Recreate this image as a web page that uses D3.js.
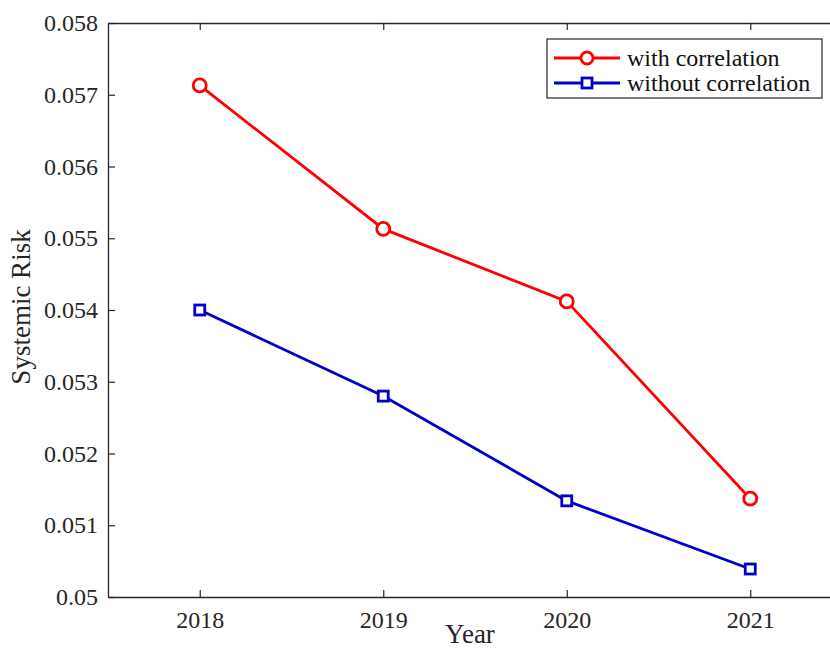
<!DOCTYPE html>
<html>
<head>
<meta charset="utf-8">
<script src="https://cdn.jsdelivr.net/npm/d3@7"></script>
<style>
  body { margin: 0; background: #fff; }
</style>
</head>
<body>
<div id="chart"></div>
<script>
// data
var years = [2018, 2019, 2020, 2021];
var withCorr = [0.05713, 0.05513, 0.05412, 0.05137];
var withoutCorr = [0.05400, 0.05280, 0.05134, 0.05039];
var yTicks = [0.05, 0.051, 0.052, 0.053, 0.054, 0.055, 0.056, 0.057, 0.058];
var seriesNames = ["with correlation", "without correlation"];

var serif = "'Liberation Serif', 'Times New Roman', serif";
var width = 830, height = 650;
// plot box runs a little past the right edge of the picture, as in the reference
var margin = {left: 108, top: 23, right: -12, bottom: 53};
var plotW = width - margin.left - margin.right;
var plotH = height - margin.top - margin.bottom;

var svg = d3.select("#chart").append("svg")
    .attr("width", width)
    .attr("height", height);

var x = d3.scaleLinear().domain([2017.5, 2021.5]).range([0, plotW]);
var y = d3.scaleLinear().domain([0.05, 0.058]).range([plotH, 0]);

var g = svg.append("g").attr("transform", "translate(" + margin.left + "," + margin.top + ")");

var axisColor = "#262626";

// box + inward ticks (matlab style)
var xBottom = d3.axisBottom(x).tickValues(years).tickFormat(d3.format("d")).tickSizeInner(-7).tickSizeOuter(0).tickPadding(14);
var xTop = d3.axisTop(x).tickValues(years).tickFormat("").tickSizeInner(-7).tickSizeOuter(0);
var yLeft = d3.axisLeft(y).tickValues(yTicks).tickFormat(function(d) { return String(+d.toFixed(3)); }).tickSizeInner(-7).tickSizeOuter(0).tickPadding(10);

g.append("g").attr("transform", "translate(0," + plotH + ")").call(xBottom);
g.append("g").call(xTop);
g.append("g").call(yLeft);

g.selectAll(".domain").attr("stroke", axisColor).attr("stroke-width", 1.3);
g.selectAll(".tick line").attr("stroke", axisColor).attr("stroke-width", 1.2);
g.selectAll(".tick text")
    .attr("fill", "#262626")
    .attr("font-family", null)
    .style("font-family", serif)
    .style("font-size", "24px");

// axis labels
svg.append("text")
    .attr("x", 470).attr("y", 643)
    .attr("text-anchor", "middle")
    .style("font-family", serif)
    .style("font-size", "27px")
    .attr("fill", "#262626")
    .text("Year");

svg.append("text")
    .attr("transform", "translate(30," + 307 + ") rotate(-90)")
    .attr("text-anchor", "middle")
    .style("font-family", serif)
    .style("font-size", "27px")
    .attr("fill", "#262626")
    .text("Systemic Risk");

var line = d3.line()
    .x(function(d, i) { return x(years[i]); })
    .y(function(d) { return y(d); });

var red = "#ff0000", blue = "#0000c8";

g.append("path").datum(withCorr)
    .attr("fill", "none").attr("stroke", red).attr("stroke-width", 2.8)
    .attr("d", line);
g.append("path").datum(withoutCorr)
    .attr("fill", "none").attr("stroke", blue).attr("stroke-width", 2.8)
    .attr("d", line);

g.selectAll(".pt-red").data(withCorr).enter().append("circle")
    .attr("cx", function(d, i) { return x(years[i]); })
    .attr("cy", function(d) { return y(d); })
    .attr("r", 6.5)
    .attr("fill", "#fff").attr("stroke", red).attr("stroke-width", 2.8);

g.selectAll(".pt-blue").data(withoutCorr).enter().append("rect")
    .attr("x", function(d, i) { return x(years[i]) - 5; })
    .attr("y", function(d) { return y(d) - 5; })
    .attr("width", 10).attr("height", 10)
    .attr("fill", "#fff").attr("stroke", blue).attr("stroke-width", 2.8);

// legend
var leg = svg.append("g").attr("transform", "translate(547,39)");
leg.append("rect").attr("width", 275).attr("height", 59)
    .attr("fill", "#fff").attr("stroke", axisColor).attr("stroke-width", 1.2);

var rows = [{name: seriesNames[0], color: red, mark: "circle"},
            {name: seriesNames[1], color: blue, mark: "square"}];

rows.forEach(function(r, i) {
    var cy = 19 + i * 25;
    var row = leg.append("g").attr("transform", "translate(0," + cy + ")");
    row.append("line").attr("x1", 7).attr("x2", 73).attr("y1", 0).attr("y2", 0)
        .attr("stroke", r.color).attr("stroke-width", 2.8);
    if (r.mark === "circle") {
        row.append("circle").attr("cx", 40).attr("cy", 0).attr("r", 6)
            .attr("fill", "#fff").attr("stroke", r.color).attr("stroke-width", 2.8);
    } else {
        row.append("rect").attr("x", 35).attr("y", -5).attr("width", 10).attr("height", 10)
            .attr("fill", "#fff").attr("stroke", r.color).attr("stroke-width", 2.8);
    }
    row.append("text").attr("x", 80).attr("y", 8)
        .style("font-family", serif)
        .style("font-size", "24px").attr("fill", "#111")
        .text(r.name);
});
</script>
</body>
</html>
